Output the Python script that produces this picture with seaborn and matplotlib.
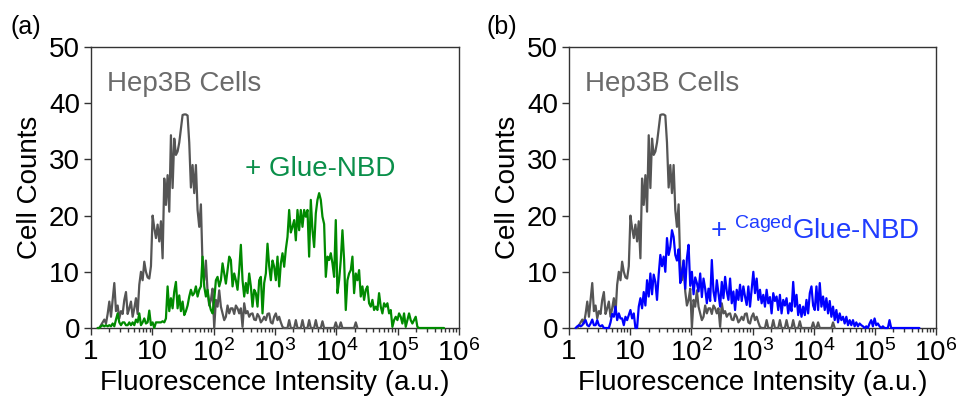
import numpy as np
import matplotlib
matplotlib.use("Agg")
import matplotlib.pyplot as plt
import seaborn as sns
from matplotlib.ticker import FixedLocator, FixedFormatter, LogLocator, NullFormatter

# ---------------- data ----------------
LOG_STEP = 0.02715          # histogram channel width in decades
START_INDEX = 4              # first channel drawn

gray_counts = [0, 0, 0.5, 1, 1.5, 0.8, 2.5, 4.7, 2, 5, 8, 3, 4, 1.7, 3, 2.5, 5, 6.4, 2.5, 3.5,
               4.7, 2, 3.5, 5.3, 2.5, 7.7, 10, 8.5, 11.8, 10, 9, 8.8, 11, 20, 17.8, 16, 18.4, 15.4,
               19, 12.4, 26.6, 21.9, 27.2, 20.7, 34.3, 24.9, 33.7, 30.8, 31.4, 33, 35.5, 37.9, 38,
               38, 37.8, 33, 25, 29, 24, 29, 21, 18, 22, 11, 8.5, 12, 6.5, 4, 5, 7, 0, 5, 3.8, 6.7,
               3.8, 2.6, 1.4, 2, 4, 2.6, 3.5, 3.5, 2.5, 4, 3.5, 2.6, 3.5, 0.2, 4.4, 2.6, 3, 2, 2.5,
               2.6, 1.5, 1.4, 2.5, 2, 1, 1.4, 2, 1.4, 2.5, 2.6, 1, 0.8, 2, 2.6, 1.4, 2, 1, 0.2, 0,
               0, 0, 1.4, 0, 0, 0, 1.4, 0, 0, 0, 1.4, 0, 0, 0, 1.4, 0, 0, 0, 1.4, 0, 0, 0, 1.2, 0,
               0, 0, 0, 0, 0, 0, 1, 0, 0, 1, 0, 0, 0, 0, 0, 0, 0, 0, 1, 0]

green_counts = [0, 0, 0.3, 0.5, 0.3, 0.5, 0.3, 0.5, 0.3, 0.8, 0.3, 1.5, 2.6, 1, 0.5, 1, 1, 0.5,
                0.5, 1, 0.5, 1, 0.5, 1.5, 1, 2.6, 0.5, 1, 1.7, 0.8, 1, 3.1, 0.5, 1, 0, 1, 1, 1, 1,
                1.2, 1, 1.7, 7.4, 3, 5.3, 3.5, 6.5, 8.2, 3.5, 5.8, 3, 4.7, 2.3, 3, 4, 5.6, 6.8, 5.8,
                6.2, 7.4, 5.6, 6.8, 7.4, 12.7, 7.4, 5.6, 6.8, 4.4, 3.2, 2.6, 5, 8.5, 9.1, 7.4, 8.5,
                11.5, 9.7, 7.9, 10.3, 12.7, 12.1, 7.4, 9.7, 8.5, 6.8, 10.3, 14.8, 8.5, 5.6, 8, 6.2,
                9.7, 7.4, 3.8, 6.8, 6.2, 3.8, 8.5, 9.1, 2.6, 8, 9.7, 15, 11, 8.5, 12, 10.9, 8.5,
                12.7, 7.4, 11.5, 13.3, 10.9, 14, 16.2, 21, 17, 18, 19.2, 15.6, 21, 17.4, 21, 18, 21,
                19.8, 21, 12.7, 22.8, 17.4, 14.4, 20.4, 22.8, 24, 22.8, 19.8, 18.5, 9.1, 12.7, 12.1,
                13.3, 11.5, 9.1, 19.2, 6.2, 8.5, 12.1, 17.4, 12.1, 3.2, 8.5, 9.7, 10.3, 12.7, 6.2,
                9.7, 8.5, 10.3, 5.6, 7.4, 5, 6.8, 7.4, 4.4, 3.8, 5, 3.2, 3.8, 3.2, 6.2, 3.8, 2.6,
                4.4, 3.8, 4.4, 2.6, 3.2, 0.2, 1.4, 2, 1.4, 2.6, 2, 0.8, 2.6, 0.2, 1.4, 2.6, 1.4, 0.8,
                1.4, 2, 0.2, 0, 0, 0, 0, 0, 0, 0, 0, 0, 0, 0, 0, 0, 0, 0, 0]

blue_counts = [0, 0.3, 0.5, 0.3, 0.5, 1, 1.4, 0.5, 0.3, 0.8, 1.5, 0.5, 0.5, 1.4, 0.5, 0.3, 0.5,
               0, 0, 0, 0, 1, 2.5, 2, 3.8, 1.4, 2.6, 1.7, 1.7, 0.5, 2, 1.4, 2.3, 3.2, 1.7, 2.6, 0,
               0, 3.8, 5.3, 3.5, 6.4, 4, 8.5, 5.6, 9.7, 6, 9.5, 8.2, 5, 9.5, 13, 11, 12.7, 10, 16,
               13, 14.4, 17.4, 16.2, 13, 12, 14, 8, 9.7, 12, 7, 12.4, 14.8, 7.5, 10, 6, 9, 8, 6.5,
               9.7, 5.5, 8.8, 7, 4.4, 7, 4.8, 12.1, 6.5, 4.8, 8.5, 6.2, 3.8, 8.2, 5.3, 9.1, 6.5, 5,
               8.8, 4.4, 6.5, 3.2, 6.8, 5, 7.7, 4.8, 7.4, 5.6, 4.1, 7.4, 3.8, 6.8, 10, 6.2, 8.8, 5,
               6.8, 4.4, 5.9, 3.8, 6.8, 4.4, 5.5, 2.6, 6.2, 4.8, 5.6, 3.2, 5.9, 2.6, 5, 4, 5.3, 2.6,
               4.4, 3, 8.2, 3.8, 5.9, 2.3, 4.1, 2, 3.8, 2.3, 5, 2.6, 6.2, 7.4, 4, 3.2, 7.4, 3.2, 8,
               3.8, 5.6, 3.2, 5.3, 2.6, 4.8, 2, 3.8, 1.4, 3.2, 1, 2.6, 1.4, 2, 0.8, 2, 0.5, 1.4,
               0.5, 1.4, 0.3, 1, 0.3, 0.8, 0.5, 0.3, 0, 0.3, 0, 0.8, 1.4, 0.3, 1.7, 0.5, 0.8, 0.3,
               0, 0.3, 0, 0, 0, 1.4, 0, 0, 0, 0, 0, 0, 0, 0, 0, 0, 0, 0, 0, 0, 0, 0, 0, 0]

x_ticks = [1, 10, 100, 1e3, 1e4, 1e5, 1e6]
x_tick_labels = ["1", "10", r"$\mathregular{10^2}$", r"$\mathregular{10^3}$",
                 r"$\mathregular{10^4}$", r"$\mathregular{10^5}$", r"$\mathregular{10^6}$"]
y_ticks = [0, 10, 20, 30, 40, 50]


def channel_values(counts):
    idx = START_INDEX + np.arange(len(counts))
    return 10 ** (idx * LOG_STEP)


# ---------------- style ----------------
sns.set_theme(style="ticks")
FONT = ["Liberation Sans", "DejaVu Sans"]
plt.rcParams["font.family"] = FONT
plt.rcParams["text.color"] = "black"
plt.rcParams["axes.labelcolor"] = "black"
plt.rcParams["mathtext.fontset"] = "custom"
plt.rcParams["mathtext.rm"] = "Liberation Sans"
plt.rcParams["mathtext.it"] = "Liberation Sans:italic"
plt.rcParams["mathtext.bf"] = "Liberation Sans:bold"

GRAY = "#555555"
GREEN = "#008a00"
BLUE = "#0000ff"
GREEN_TXT = "#0a8f4a"
BLUE_TXT = "#1f3cff"
SPINE = "#333333"
FS = 20

fig = plt.figure(figsize=(9.57, 4.07), dpi=100)
ax_a = fig.add_axes([91 / 957, 1 - 328 / 407, 368 / 957, 281 / 407])
ax_b = fig.add_axes([569 / 957, 1 - 328 / 407, 367 / 957, 281 / 407])

panels = [
    (ax_a, green_counts, GREEN, "+ Glue-NBD", GREEN_TXT, (0.418, 0.54)),
    (ax_b, blue_counts, BLUE, r"+ $^{\mathregular{Caged}}$Glue-NBD", BLUE_TXT, (0.384, 0.315)),
]

for ax, counts, col, label, tcol, tpos in panels:
    sns.lineplot(x=channel_values(gray_counts), y=gray_counts, ax=ax, color=GRAY,
                 lw=1.6, sort=False, estimator=None, zorder=3, clip_on=False)
    sns.lineplot(x=channel_values(counts), y=counts, ax=ax, color=col,
                 lw=1.6, sort=False, estimator=None, zorder=3.5, clip_on=False)
    ax.set_xscale("log")
    ax.set_xlim(1, 1e6)
    ax.set_ylim(0, 50)
    ax.xaxis.set_major_locator(FixedLocator(x_ticks))
    ax.xaxis.set_major_formatter(FixedFormatter(x_tick_labels))
    ax.xaxis.set_minor_locator(LogLocator(base=10, subs=np.arange(2, 10), numticks=20))
    ax.xaxis.set_minor_formatter(NullFormatter())
    ax.yaxis.set_major_locator(FixedLocator(y_ticks))
    ax.tick_params(axis="both", which="major", direction="out", length=5, width=1,
                   color=SPINE, labelsize=FS, labelcolor="black", pad=3)
    ax.tick_params(axis="x", which="minor", direction="out", length=3, width=1, color=SPINE)
    for s in ax.spines.values():
        s.set_visible(True)
        s.set_color(SPINE)
        s.set_linewidth(1)
    ax.set_xlabel("Fluorescence Intensity (a.u.)", fontsize=FS, labelpad=2, color="black")
    ax.set_ylabel("Cell Counts", fontsize=FS, labelpad=4, color="black")
    ax.text(0.0435, 0.843, "Hep3B Cells", transform=ax.transAxes, fontsize=FS,
            color="#6b6b6b", ha="left", va="baseline")
    ax.text(tpos[0], tpos[1], label, transform=ax.transAxes, fontsize=FS,
            color=tcol, ha="left", va="baseline")

fig.text(10 / 957, 1 - 27 / 407, "(a)", fontsize=18, ha="left", va="center", color="black")
fig.text(486 / 957, 1 - 27 / 407, "(b)", fontsize=18, ha="left", va="center", color="black")

fig.savefig("out.png", dpi=100)
